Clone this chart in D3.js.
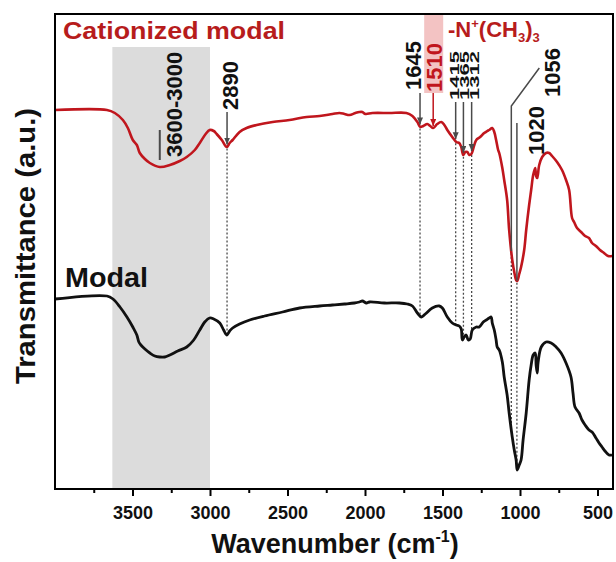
<!DOCTYPE html>
<html>
<head>
<meta charset="utf-8">
<script src="https://cdn.jsdelivr.net/npm/d3@7"></script>
<style>
  body { margin: 0; background: #fff; }
  text { font-family: "Liberation Sans", Arial, sans-serif; font-weight: bold; }
</style>
</head>
<body>
<div id="chart"></div>
<script>
// wavenumbers (cm-1) and transmittance (a.u.)
var wnRed = [4000,3665,3614,3562,3530,3498,3472,3453,3420,3388,
  3324,3259,3195,3150,3098,3066,3028,3002,2976,2957,
  2924,2892,2873,2854,2809,2764,2699,2596,2487,2377,
  2293,2210,2165,2132,2100,2062,2036,2017,1997,1952,
  1843,1733,1694,1662,1643,1624,1598,1579,1560,1534,
  1508,1488,1469,1437,1411,1392,1379,1366,1353,1340,
  1327,1314,1295,1282,1257,1231,1211,1199,1179,1166,
  1154,1141,1134,1114,1102,1083,1070,1050,1037,1025,
  1018,1005,993,973,960,941,928,915,902,896,
  889,876,857,832,812,793,761,729,703,683,
  664,651,632,606,580,555,535,510,484,458,
  432,406];
var tRed = [379,379,376,369,361,349,344,336,330,326,
  322,324,328,332,339,346,355,359,358,355,
  349,342,346,349,357,361,364,367,369,372,
  373,375,376,375,374,376,377,377,375,376,
  376,376,373,367,362,363,365,363,361,365,
  367,364,359,352,347,346,342,334,337,337,
  334,335,344,349,352,356,358,359,361,357,
  349,339,336,321,309,289,259,229,217,209,
  208,215,222,239,259,284,299,314,321,313,
  311,324,332,336,336,333,327,319,309,299,
  271,267,261,257,253,251,246,243,239,236,
  233,233];

var wnBlack = [4000,3665,3626,3581,3536,3498,3472,3459,3446,3420,
  3388,3356,3324,3292,3259,3208,3150,3105,3066,3034,
  3002,2976,2937,2912,2892,2873,2854,2809,2744,2648,
  2532,2422,2293,2210,2132,2068,2036,2017,1991,1971,
  1875,1778,1727,1694,1662,1636,1611,1566,1521,1501,
  1469,1437,1411,1392,1379,1372,1360,1347,1334,1321,
  1308,1282,1263,1237,1218,1199,1186,1179,1166,1154,
  1147,1134,1114,1102,1083,1070,1050,1037,1025,1018,
  1005,993,980,960,941,928,915,902,896,889,
  883,863,832,799,767,735,703,671,658,645,
  619,600,580,555,535,510,490,471,452,426,
  406];
var tBlack = [190,193,190,182,172,162,154,147,144,140,
  136,133,132,132,134,138,142,149,159,167,
  171,170,166,159,154,158,161,165,169,173,
  177,181,183,184,185,186,187,188,186,187,
  186,186,185,183,176,172,175,181,183,181,
  172,166,164,163,160,149,152,154,149,150,
  159,162,162,167,169,171,172,166,159,149,
  142,139,127,112,94,76,52,39,29,19,
  24,29,49,76,109,124,134,136,124,116,
  127,142,147,146,142,136,126,112,96,82,
  76,69,64,59,57,51,46,42,38,34,
  34];

var xMajor = [3500, 3000, 2500, 2000, 1500, 1000, 500];
var xMinor = [3750, 3250, 2750, 2250, 1750, 1250, 750];
var band = [3630, 3000];

// peak labels and where their arrows sit on the axis
var peakLabels = ["3600-3000", "2890", "1645", "1510", "1415", "1365", "1312", "1056", "1020"];
var peakWn = [3324, 2890, 1645, 1560, 1415, 1365, 1312, 1056, 1020];
var dottedPeaks = ["2890", "1645", "1415", "1365", "1312", "1056", "1020"];

var red = "#c0161d";
var grey = "#4a4a4a";

var W = 616, H = 562;
var mLeft = 55, mRight = 613, mTop = 14, mBottom = 489;

var svg = d3.select("#chart").append("svg")
    .attr("width", W)
    .attr("height", H);

var x = d3.scaleLinear().domain([4000, 400]).range([mLeft, mRight]);
var y = d3.scaleLinear().domain([0, 475]).range([mBottom, mTop]);

function valueAt(wns, ts, w) {
  for (var i = 0; i < wns.length - 1; i++) {
    if (w <= wns[i] && w >= wns[i + 1]) {
      var f = (wns[i] - w) / (wns[i] - wns[i + 1]);
      return ts[i] + f * (ts[i + 1] - ts[i]);
    }
  }
  return ts[ts.length - 1];
}

var defs = svg.append("defs");
function arrowHead(id, col) {
  defs.append("marker")
      .attr("id", id)
      .attr("markerUnits", "userSpaceOnUse")
      .attr("markerWidth", 8).attr("markerHeight", 8)
      .attr("refX", 7).attr("refY", 3)
      .attr("orient", "auto")
    .append("path")
      .attr("d", "M0,0 L7,3 L0,6 Z")
      .attr("fill", col);
}
arrowHead("ah", grey);
arrowHead("ahr", red);

// grey band 3600-3000
svg.append("rect")
    .attr("x", x(band[0]))
    .attr("y", 47)
    .attr("width", x(band[1]) - x(band[0]))
    .attr("height", mBottom - 47)
    .attr("fill", "#dcdcdc");

// pink highlight behind 1510
svg.append("rect")
    .attr("x", x(1560) - 9)
    .attr("y", mTop)
    .attr("width", 19)
    .attr("height", 79)
    .attr("fill", "#f3c3c3");

// dotted guide lines red -> black
dottedPeaks.forEach(function (lab) {
  var w = peakWn[peakLabels.indexOf(lab)];
  svg.append("line")
      .attr("x1", x(w)).attr("x2", x(w))
      .attr("y1", y(valueAt(wnRed, tRed, w)) + 2)
      .attr("y2", y(valueAt(wnBlack, tBlack, w)))
      .attr("stroke", grey)
      .attr("stroke-width", 1.3)
      .attr("stroke-dasharray", "2,2");
});

var line = d3.line()
    .x(function (d) { return x(d[0]); })
    .y(function (d) { return y(d[1]); })
    .curve(d3.curveCatmullRom.alpha(0.5));

svg.append("path")
    .datum(d3.zip(wnBlack, tBlack))
    .attr("d", line)
    .attr("fill", "none")
    .attr("stroke", "#111")
    .attr("stroke-width", 2.8)
    .attr("stroke-linejoin", "round");

svg.append("path")
    .datum(d3.zip(wnRed, tRed))
    .attr("d", line)
    .attr("fill", "none")
    .attr("stroke", red)
    .attr("stroke-width", 2.6)
    .attr("stroke-linejoin", "round");

// frame
svg.append("rect")
    .attr("x", mLeft).attr("y", mTop)
    .attr("width", mRight - mLeft).attr("height", mBottom - mTop)
    .attr("fill", "none")
    .attr("stroke", "#000")
    .attr("stroke-width", 2);

// x axis
var xAxis = d3.axisBottom(x).tickValues(xMajor).tickFormat(d3.format("d"))
    .tickSize(7).tickSizeOuter(0).tickPadding(10);
var gx = svg.append("g")
    .attr("transform", "translate(0," + mBottom + ")")
    .call(xAxis);
gx.select(".domain").remove();
gx.selectAll(".tick line").attr("stroke", "#000").attr("stroke-width", 2);
gx.selectAll(".tick text")
    .attr("font-size", 18)
    .attr("font-family", "Liberation Sans, Arial, sans-serif")
    .attr("font-weight", "bold")
    .attr("fill", "#111");

var gm = svg.append("g")
    .attr("transform", "translate(0," + mBottom + ")")
    .call(d3.axisBottom(x).tickValues(xMinor).tickSize(4).tickSizeOuter(0).tickFormat(""));
gm.select(".domain").remove();
gm.selectAll(".tick line").attr("stroke", "#000").attr("stroke-width", 2);

// axis titles
var xt = svg.append("text")
    .attr("x", 335).attr("y", 553)
    .attr("text-anchor", "middle")
    .attr("font-size", 27)
    .attr("fill", "#111");
xt.append("tspan").text("Wavenumber (cm");
xt.append("tspan").attr("font-size", 16).attr("dy", -11).text("-1");
xt.append("tspan").attr("dy", 11).text(")");

svg.append("text")
    .attr("transform", "translate(35,246) rotate(-90)")
    .attr("text-anchor", "middle")
    .attr("font-size", 27)
    .attr("textLength", 276)
    .attr("lengthAdjust", "spacingAndGlyphs")
    .attr("fill", "#111")
    .text("Transmittance (a.u.)");

// series names
svg.append("text")
    .attr("x", 63).attr("y", 39)
    .attr("font-size", 23)
    .attr("textLength", 222)
    .attr("lengthAdjust", "spacingAndGlyphs")
    .attr("fill", "#b71c1c")
    .text("Cationized modal");

svg.append("text")
    .attr("x", 65).attr("y", 287)
    .attr("font-size", 27)
    .attr("textLength", 83)
    .attr("lengthAdjust", "spacingAndGlyphs")
    .attr("fill", "#111")
    .text("Modal");

var nt = svg.append("text")
    .attr("x", 448).attr("y", 37)
    .attr("font-size", 22)
    .attr("fill", "#b71c1c");
nt.append("tspan").text("-N");
nt.append("tspan").attr("font-size", 13).attr("dy", -9).text("+");
nt.append("tspan").attr("dy", 9).text("(CH");
nt.append("tspan").attr("font-size", 13).attr("dy", 5).text("3");
nt.append("tspan").attr("dy", -5).text(")");
nt.append("tspan").attr("font-size", 13).attr("dy", 5).text("3");

// peak labels: text centre offset, text bottom, arrow top, glyph squeeze
var peakLayout = {
  "3600-3000": {dx: 15, tb: 157, at: 130, head: false, sq: 1},
  "2890": {dx: 3, tb: 110, at: 112, head: true, sq: 1},
  "1645": {dx: -7, tb: 90, at: 93, head: true, sq: 1},
  "1510": {dx: 1, tb: 92, at: 93, head: true, sq: 1},
  "1415": {dx: -1, tb: 100, at: 102, head: true, sq: 0.55},
  "1365": {dx: 1.5, tb: 100, at: 102, head: true, sq: 0.55},
  "1312": {dx: 3.5, tb: 100, at: 102, head: true, sq: 0.55},
  "1056": {dx: 41, tb: 97, at: 106, head: false, sq: 1},
  "1020": {dx: 20, tb: 155, at: 123, head: false, sq: 1}
};

peakLabels.forEach(function (lab, i) {
  var w = peakWn[i];
  var L = peakLayout[lab];
  var px = x(w);
  var col = lab === "1510" ? red : grey;
  var ry = y(valueAt(wnRed, tRed, w));

  svg.append("text")
      .attr("transform", "translate(" + (px + L.dx) + "," + L.tb + ") rotate(-90) scale(1," + L.sq + ")")
      .attr("dominant-baseline", "central")
      .attr("font-size", 22)
      .attr("fill", lab === "1510" ? red : "#111")
      .text(lab);

  if (lab === "1056") {
    svg.append("polyline")
        .attr("points", [[px + 28, 68], [px, L.at], [px, ry]].join(" "))
        .attr("fill", "none")
        .attr("stroke", grey)
        .attr("stroke-width", 1.5);
    return;
  }
  var ln = svg.append("line")
      .attr("x1", px).attr("x2", px)
      .attr("y1", L.at)
      .attr("y2", L.head ? ry - 2 : (lab === "1020" ? ry : ry - 7))
      .attr("stroke", col)
      .attr("stroke-width", lab === "3600-3000" ? 2 : 1.5);
  if (L.head) ln.attr("marker-end", lab === "1510" ? "url(#ahr)" : "url(#ah)");
});
</script>
</body>
</html>
